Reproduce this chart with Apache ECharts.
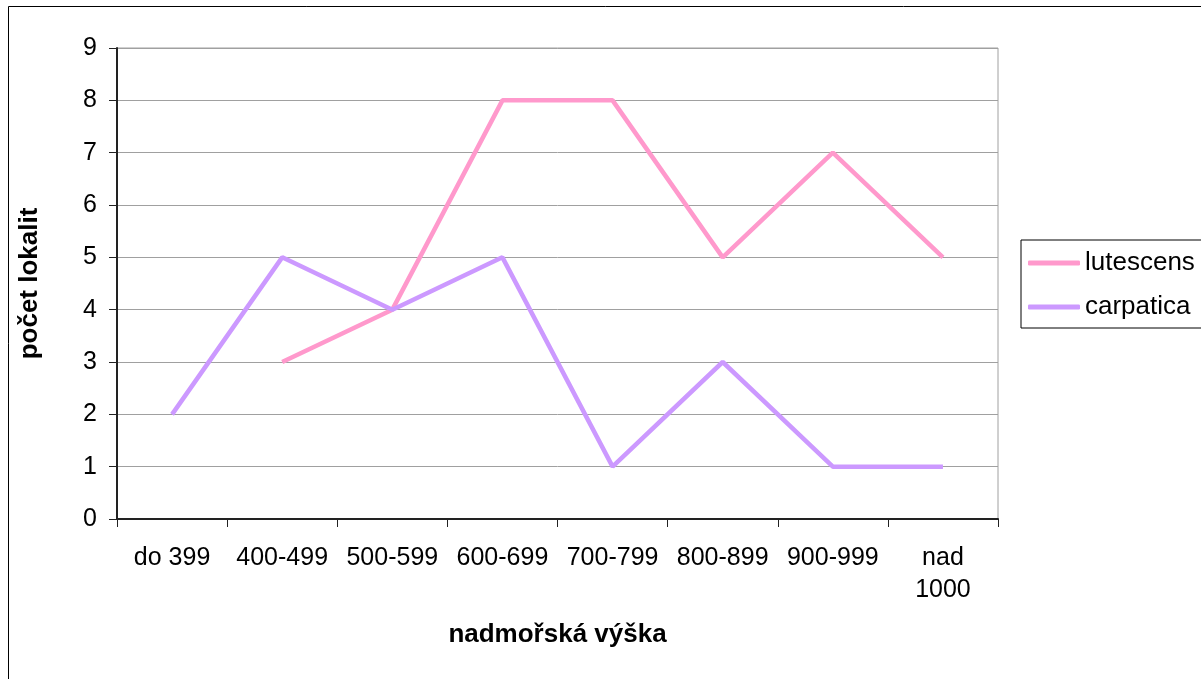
<!DOCTYPE html>
<html>
<head>
<meta charset="utf-8">
<script src="https://cdn.jsdelivr.net/npm/echarts@6/dist/echarts.min.js"></script>
<style>
  html, body { margin: 0; padding: 0; background: #fff; }
  #chart { width: 1201px; height: 679px; }
</style>
</head>
<body>
<div id="chart"></div>
<script>
// kategorie nadmořské výšky
var categories = ['do 399', '400-499', '500-599', '600-699', '700-799', '800-899', '900-999', 'nad\n1000'];
// počty lokalit
var lutescens = [null, 3, 4, 8, 8, 5, 7, 5];
var carpatica = [2, 5, 4, 5, 1, 3, 1, 1];

var font = 'Liberation Sans, Arial, sans-serif';
var myChart = echarts.init(document.getElementById('chart'));

var option = {
  backgroundColor: '#fff',
  animation: false,
  textStyle: { fontFamily: font },
  graphic: [{
    // vnější rámeček
    type: 'rect',
    shape: { x: 8.5, y: 6.5, width: 1210, height: 700 },
    style: { fill: null, stroke: '#000', lineWidth: 1 },
    silent: true
  }],
  grid: {
    left: 117, top: 48, width: 881, height: 471,
    show: true, borderColor: '#a0a0a0', borderWidth: 1
  },
  legend: {
    orient: 'vertical',
    left: 1021, top: 240,
    padding: [8, 40, 6, 7],
    borderColor: '#000', borderWidth: 1,
    icon: 'roundRect',
    itemWidth: 52, itemHeight: 5, itemGap: 14,
    textStyle: { fontSize: 26, lineHeight: 30, color: '#000', fontFamily: font },
    data: ['lutescens', 'carpatica']
  },
  xAxis: {
    type: 'category',
    data: categories,
    boundaryGap: true,
    axisLine: { lineStyle: { color: '#222', width: 2 } },
    axisTick: { show: true, length: 8, inside: false, lineStyle: { color: '#222' } },
    axisLabel: { fontSize: 25, color: '#000', margin: 23, lineHeight: 32, interval: 0, fontFamily: font },
    name: 'nadmořská výška',
    nameLocation: 'middle',
    nameGap: 103,
    nameTextStyle: { fontSize: 26, fontWeight: 'bold', color: '#000', fontFamily: font }
  },
  yAxis: {
    type: 'value',
    min: 0, max: 9, interval: 1,
    axisLine: { show: true, lineStyle: { color: '#222', width: 2 } },
    axisTick: { show: true, length: 8, lineStyle: { color: '#222' } },
    axisLabel: { fontSize: 25, color: '#000', margin: 20, fontFamily: font },
    splitLine: { show: true, lineStyle: { color: '#a0a0a0', width: 1 } },
    name: 'počet lokalit',
    nameLocation: 'middle',
    nameGap: 74,
    nameRotate: 90,
    nameTextStyle: { fontSize: 26, fontWeight: 'bold', color: '#000', fontFamily: font }
  },
  series: [{
    name: 'lutescens',
    type: 'line',
    data: lutescens,
    symbol: 'none',
    color: '#ff99cc',
    lineStyle: { width: 4.5, color: '#ff99cc' }
  }, {
    name: 'carpatica',
    type: 'line',
    data: carpatica,
    symbol: 'none',
    color: '#cc99ff',
    lineStyle: { width: 4.5, color: '#cc99ff' }
  }]
};

myChart.setOption(option);
</script>
</body>
</html>
